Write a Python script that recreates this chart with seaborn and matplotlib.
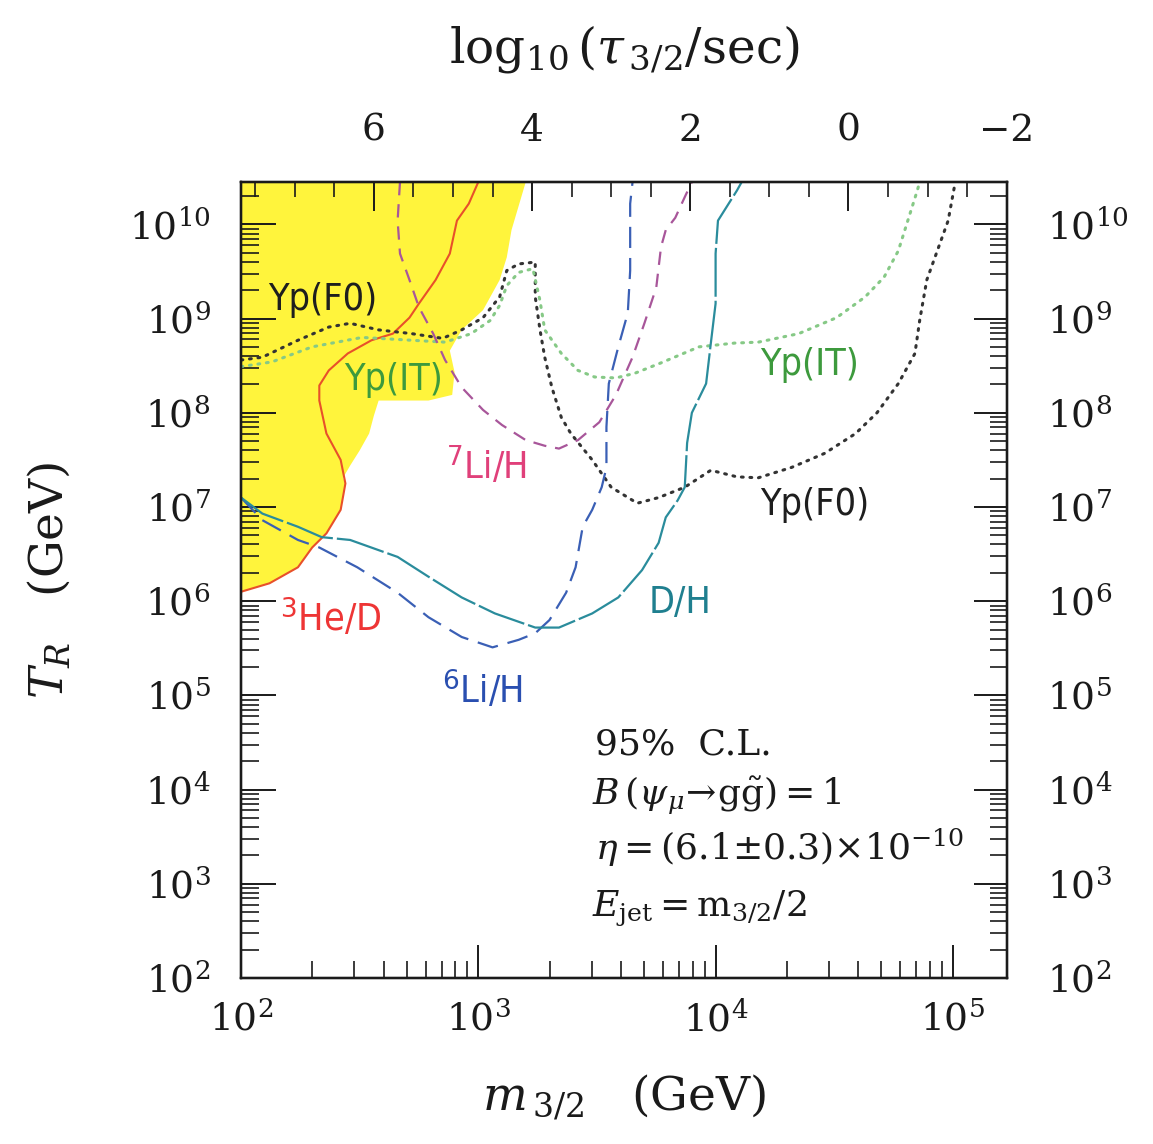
import numpy as np
import matplotlib
matplotlib.use('Agg')
import matplotlib.pyplot as plt
from matplotlib import ticker
import seaborn as sns

# all curves as (log10 m_3/2 [GeV], log10 T_R [GeV])
yellow_logm = [2.00, 3.20, 3.14, 3.12, 3.09, 3.02, 2.93, 2.88, 2.90, 2.89, 2.79,
               2.58, 2.56, 2.54, 2.50, 2.46, 2.43, 2.44, 2.42, 2.36, 2.30, 2.24,
               2.12, 2.00]
yellow_logT = [10.45, 10.45, 9.94, 9.65, 9.41, 9.09, 8.88, 8.66, 8.43, 8.19, 8.13,
               8.13, 7.97, 7.78, 7.60, 7.44, 7.31, 7.25, 6.97, 6.72, 6.57, 6.36,
               6.19, 6.10]

he3_logm = [2.00, 2.12, 2.24, 2.30, 2.36, 2.42, 2.44, 2.42, 2.36, 2.33, 2.33,
            2.37, 2.45, 2.55, 2.64, 2.71, 2.75, 2.82, 2.88, 2.91, 2.96, 3.00]
he3_logT = [6.10, 6.19, 6.36, 6.57, 6.72, 6.97, 7.25, 7.50, 7.78, 8.13, 8.29,
            8.45, 8.63, 8.77, 8.84, 9.01, 9.16, 9.41, 9.69, 10.04, 10.22, 10.45]

ypfo_logm = [2.00, 2.09, 2.24, 2.37, 2.46, 2.58, 2.72, 2.85, 2.93, 3.02, 3.09,
             3.12, 3.17, 3.24, 3.24, 3.26, 3.28, 3.31, 3.35, 3.39, 3.48, 3.56,
             3.67, 3.76, 3.87, 3.98, 4.09, 4.18, 4.32, 4.46, 4.59, 4.68, 4.77,
             4.84, 4.86, 4.89, 4.93, 4.98, 5.01]
ypfo_logT = [8.56, 8.59, 8.77, 8.91, 8.95, 8.88, 8.84, 8.79, 8.88, 9.01, 9.23,
             9.51, 9.58, 9.60, 9.23, 8.88, 8.59, 8.27, 7.95, 7.78, 7.50, 7.21,
             7.04, 7.10, 7.21, 7.39, 7.32, 7.31, 7.42, 7.57, 7.78, 8.00, 8.31,
             8.63, 8.98, 9.41, 9.69, 10.04, 10.45]

ypit_logm = [2.00, 2.13, 2.30, 2.51, 2.72, 2.86, 2.97, 3.05, 3.09, 3.12, 3.17,
             3.23, 3.26, 3.28, 3.35, 3.42, 3.49, 3.58, 3.66, 3.77, 3.93, 4.08,
             4.18, 4.35, 4.51, 4.63, 4.71, 4.77, 4.81, 4.85, 4.86]
ypit_logT = [8.49, 8.54, 8.70, 8.80, 8.77, 8.75, 8.84, 8.98, 9.14, 9.35, 9.49,
             9.53, 9.19, 8.88, 8.63, 8.45, 8.38, 8.37, 8.42, 8.53, 8.70, 8.74,
             8.75, 8.84, 9.01, 9.23, 9.44, 9.72, 10.04, 10.36, 10.45]

li7_logm = [2.67, 2.66, 2.67, 2.71, 2.75, 2.81, 2.86, 2.93, 3.02, 3.10, 3.20,
            3.28, 3.34, 3.42, 3.51, 3.58, 3.65, 3.70, 3.75, 3.77, 3.79, 3.83,
            3.87, 3.90]
li7_logT = [10.45, 10.04, 9.69, 9.41, 9.12, 8.84, 8.56, 8.27, 8.03, 7.87, 7.71,
            7.65, 7.62, 7.71, 7.90, 8.19, 8.59, 8.95, 9.33, 9.76, 9.94, 10.07,
            10.29, 10.45]

li6_logm = [2.00, 2.09, 2.24, 2.33, 2.49, 2.66, 2.79, 2.93, 3.06, 3.17, 3.24,
            3.30, 3.37, 3.41, 3.44, 3.48, 3.52, 3.54, 3.54, 3.55, 3.59, 3.63,
            3.64, 3.64, 3.64, 3.65]
li6_logT = [7.10, 6.86, 6.65, 6.57, 6.36, 6.09, 5.83, 5.62, 5.51, 5.59, 5.66,
            5.80, 6.09, 6.36, 6.79, 6.97, 7.21, 7.42, 7.85, 8.31, 8.70, 9.06,
            9.51, 9.86, 10.22, 10.45]

dh_logm = [2.00, 2.09, 2.24, 2.34, 2.46, 2.66, 2.79, 2.93, 3.07, 3.24, 3.34,
           3.48, 3.59, 3.69, 3.76, 3.79, 3.84, 3.87, 3.88, 3.90, 3.96, 3.98,
           4.00, 4.00, 4.01, 4.09, 4.11]
dh_logT = [7.10, 6.93, 6.79, 6.68, 6.65, 6.47, 6.26, 6.04, 5.87, 5.72, 5.72,
           5.87, 6.04, 6.33, 6.62, 6.89, 7.07, 7.21, 7.68, 8.00, 8.31, 8.74,
           9.16, 9.69, 10.04, 10.36, 10.45]

# log10(tau_3/2 / sec) = TAU_OFFSET - 3 log10(m_3/2 / GeV)
TAU_OFFSET = 13.68
tau_ticks = [6, 4, 2, 0, -2]

LOGM_RANGE = (2.0, 5.228)
LOGT_RANGE = (2.0, 10.45)

W, H = 1153, 1144
INK = '#1a1a1a'


def curve(ax, logm, logT, color, ls, lw=1.6, **kw):
    sns.lineplot(x=10 ** np.array(logm), y=10 ** np.array(logT), sort=False,
                 estimator=None, ax=ax, color=color, linestyle=ls, lw=lw, **kw)


def log_axis(axis):
    axis.set_major_locator(ticker.LogLocator(base=10, numticks=100))
    axis.set_minor_locator(ticker.LogLocator(base=10, subs=np.arange(2, 10), numticks=100))
    axis.set_minor_formatter(ticker.NullFormatter())


def main():
    sns.set_theme(style='ticks')
    plt.rcParams['font.family'] = ['DejaVu Serif']
    plt.rcParams['mathtext.fontset'] = 'dejavuserif'
    plt.rcParams['axes.linewidth'] = 1.6

    fig = plt.figure(figsize=(W / 100, H / 100), dpi=100)
    ax = fig.add_axes([241 / W, 1 - 978 / H, (1007 - 241) / W, (978 - 182) / H])
    ax.set_xscale('log')
    ax.set_yscale('log')
    ax.set_xlim(10 ** LOGM_RANGE[0], 10 ** LOGM_RANGE[1])
    ax.set_ylim(10 ** LOGT_RANGE[0], 10 ** LOGT_RANGE[1])

    ax.fill(10 ** np.array(yellow_logm), 10 ** np.array(yellow_logT),
            color='#fff43c', lw=0, zorder=0)

    dots = (0, (0.6, 2.2))
    curve(ax, he3_logm, he3_logT, '#e8502a', '-', lw=1.5)
    curve(ax, ypfo_logm, ypfo_logT, '#333333', dots, lw=2.2, dash_capstyle='round')
    curve(ax, ypit_logm, ypit_logT, '#86c986', dots, lw=2.2, dash_capstyle='round')
    curve(ax, li7_logm, li7_logT, '#a8569a', (0, (6, 4)))
    curve(ax, li6_logm, li6_logT, '#3a5fb5', (0, (9.5, 4.5)))
    curve(ax, dh_logm, dh_logT, '#2a8c9c', (0, (22, 1.8)))

    lab = dict(family='DejaVu Sans', fontstretch='condensed', fontsize=27,
               ha='left', va='baseline')
    ax.text(10 ** 2.113, 10 ** 9.09, 'Yp(F0)', color='#1e1e1e', **lab)
    ax.text(10 ** 2.436, 10 ** 8.24, 'Yp(IT)', color='#3d9a3d', **lab)
    ax.text(10 ** 4.186, 10 ** 8.40, 'Yp(IT)', color='#3d9a3d', **lab)
    ax.text(10 ** 4.186, 10 ** 6.91, 'Yp(F0)', color='#1e1e1e', **lab)
    ax.text(10 ** 2.864, 10 ** 7.30, r'$^{\mathsf{7}}$Li/H', color='#e0407a', **lab)
    ax.text(10 ** 2.164, 10 ** 5.69, r'$^{\mathsf{3}}$He/D', color='#ee3535', **lab)
    ax.text(10 ** 3.716, 10 ** 5.87, 'D/H', color='#1f7f8f', **lab)
    ax.text(10 ** 2.848, 10 ** 4.92, r'$^{\mathsf{6}}$Li/H', color='#2a4fb0', **lab)

    info = dict(fontsize=26, ha='left', va='baseline', color=INK)
    ax.text(10 ** 3.49, 10 ** 4.37, '95%  C.L.', **info)
    ax.text(10 ** 3.48, 10 ** 3.84,
            r'$B\,(\psi_{\mu}\!\rightarrow\!\mathrm{g}\tilde{\mathrm{g}}){=}1$', **info)
    ax.text(10 ** 3.49, 10 ** 3.25,
            r'$\eta{=}(6.1{\pm}0.3){\times}10^{-10}$', **info)
    ax.text(10 ** 3.48, 10 ** 2.66, r'$E_{\mathrm{jet}}{=}\mathrm{m}_{3/2}/2$', **info)

    # bottom / left axes
    log_axis(ax.xaxis)
    log_axis(ax.yaxis)
    ax.tick_params(axis='x', which='major', direction='in', length=24, width=1.4,
                   pad=17, labelsize=27, top=False, colors=INK)
    ax.tick_params(axis='x', which='minor', direction='in', length=12, width=1.2,
                   top=False, colors=INK)
    ax.tick_params(axis='y', which='major', direction='in', length=25, width=1.4,
                   pad=22, labelsize=27, right=False, colors=INK)
    ax.tick_params(axis='y', which='minor', direction='in', length=13, width=1.2,
                   right=False, colors=INK)
    ax.set_xlabel(r'$m_{\,3/2}$   (GeV)', fontsize=34, labelpad=24, color=INK)
    ax.set_ylabel(r'$T_R$   (GeV)', fontsize=34, labelpad=40, color=INK)

    # right axis, same scale
    ax2 = ax.twinx()
    ax2.set_yscale('log')
    ax2.set_ylim(ax.get_ylim())
    log_axis(ax2.yaxis)
    ax2.tick_params(axis='y', which='major', direction='in', length=24, width=1.4,
                    pad=29, labelsize=27, colors=INK)
    ax2.tick_params(axis='y', which='minor', direction='in', length=12, width=1.2,
                    colors=INK)

    # top axis: gravitino lifetime, linear in log10(tau)
    ax3 = ax.twiny()
    ax3.set_xscale('linear')
    ax3.set_xlim(TAU_OFFSET - 3 * LOGM_RANGE[0], TAU_OFFSET - 3 * LOGM_RANGE[1])
    ax3.set_xticks(tau_ticks)
    ax3.xaxis.set_minor_locator(ticker.MultipleLocator(0.5))
    ax3.tick_params(axis='x', which='major', direction='in', length=21, width=1.4,
                    pad=24, labelsize=27, colors=INK)
    ax3.tick_params(axis='x', which='minor', direction='in', length=11, width=1.2,
                    colors=INK)
    ax3.set_xlabel(r'$\log_{10}(\tau_{\,3/2}/\mathrm{sec})$', fontsize=35,
                   labelpad=36, color=INK)

    for a in (ax, ax2, ax3):
        for s in a.spines.values():
            s.set_linewidth(1.6)
            s.set_color(INK)

    fig.savefig('out.png', dpi=100, facecolor='white')


if __name__ == '__main__':
    main()
